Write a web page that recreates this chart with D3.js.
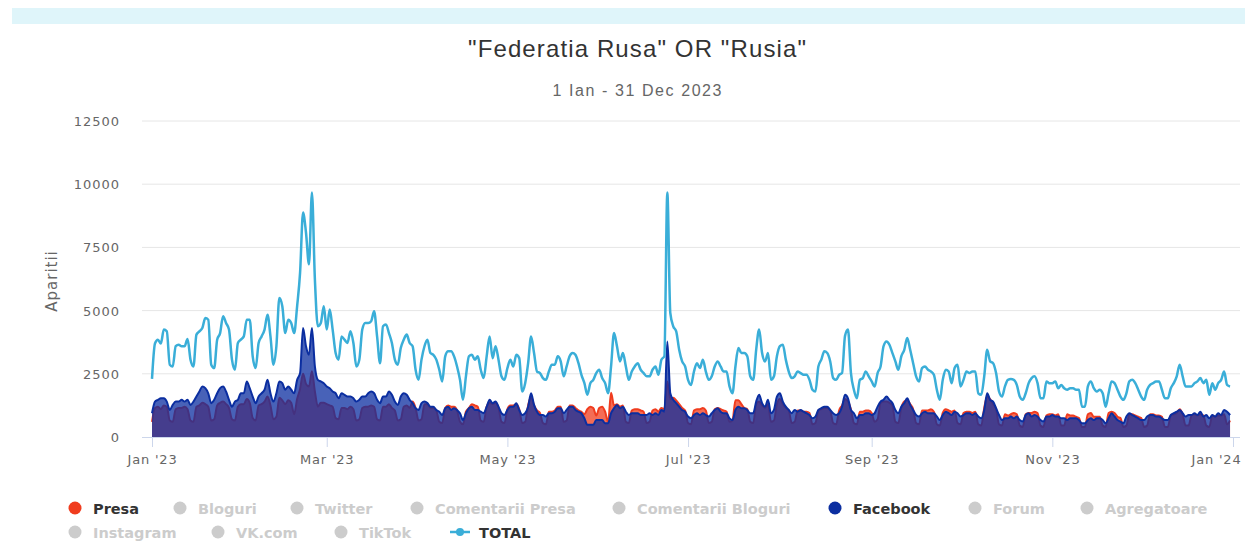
<!DOCTYPE html>
<html><head><meta charset="utf-8">
<script src="https://cdn.jsdelivr.net/npm/d3@7"></script>
<style>body{margin:0;background:#fff;} svg{display:block;}</style>
</head><body>
<svg id="c" width="1245" height="542"></svg>
<script>
// ---- DATA (daily, 1 Jan 2023 .. 31 Dec 2023) ----
const startDay = "2023-01-01";
const total = [
// Jan
2300,3700,3850,3700,4250,4180,2860,2790,3590,3650,3590,3590,3880,3060,2790,4050,4180,4310,4710,4640,2860,2725,3850,4110,4780,4510,4250,3060,2660,3720,3850,
// Feb
3980,4640,4640,3190,2725,3720,3980,4250,4840,3980,2860,3590,5500,5170,4110,4640,4510,4110,5170,6500,8880,8080,6830,9670,6230,4380,4510,5170,
// Mar
4250,5040,4250,3320,3060,3980,3850,3720,4180,3720,2790,3060,4250,4510,4510,4580,4970,3980,2920,4380,4450,4110,3720,3060,2860,3520,3850,4050,3720,3590,2660,
// Apr
2260,3060,3590,3850,3320,3250,3060,2660,2200,3190,3390,3390,3190,2790,2260,1470,2400,3190,3250,3060,3190,2660,2330,3190,3980,3120,3590,3060,2400,2260,
// May
2725,3060,2790,3250,3120,1800,2130,2920,3980,3320,2590,2530,2330,2260,2590,2860,2860,3190,2990,2400,2790,3190,3320,3250,2920,2460,2130,1670,2130,2260,2530,
// Jun
2660,2330,2130,1730,2790,4110,3590,2990,3320,2790,2260,2590,2790,2920,2660,2530,2400,2400,2660,2790,2460,3060,3190,9670,4910,4380,4180,3450,2990,2790,
// Jul
2260,2060,2590,2920,2725,3060,2590,2260,2400,2790,2990,2790,2590,2590,2000,1730,2790,3520,3320,3320,3190,2400,2260,3450,4250,3320,2990,3320,2260,2400,3190,
// Aug
3590,3650,3060,2590,2330,2400,2590,2530,2460,2460,2260,1870,1800,2790,3060,3390,3320,2990,2330,2260,2460,2530,4000,4250,2530,1870,1530,2260,2330,2590,2400,
// Sep
2200,2000,2530,2790,3590,3780,3650,3320,2990,2660,3190,3450,3920,3450,2920,2400,2200,2725,2790,2660,2590,2460,1870,1470,2260,2660,2590,2130,2725,2860,
// Oct
2000,2260,2590,2530,2590,2590,1730,1670,2400,3450,2990,2920,2530,1800,1600,2000,2260,2290,2260,2060,1600,1470,1730,2130,2330,2400,2130,1530,1530,2200,2130,
// Nov
2130,2200,1930,2060,1930,1870,1930,1930,1870,1870,1200,1200,2000,2200,1930,1800,1870,1730,1200,1730,2200,2130,1870,1600,1470,1730,2200,2260,2130,1870,
// Dec
1600,1470,1870,2060,2130,2200,2200,1870,1530,1530,1930,2130,2400,2860,2400,2000,2000,2000,2130,2200,2330,2130,2260,1670,2130,1870,2130,2260,2590,2060,2000
];
const facebook = [
// Jan
940,1400,1470,1530,1530,1400,1070,1270,1400,1400,1470,1400,1470,1270,1400,1600,1800,2000,1930,1730,1340,1470,1730,1930,2000,1800,1470,1200,1400,1470,1730,
// Feb
1730,2200,1930,1600,1340,1600,1730,1870,2260,1730,1400,1730,2200,2130,1870,2000,1870,1730,2260,2530,4310,3590,3250,4310,2790,2260,2200,2130,
// Mar
2000,1930,1800,1730,1530,1730,1670,1600,1600,1530,1400,1470,1600,1600,1730,1800,1730,1470,1340,1600,1600,1800,1670,1400,1270,1600,1730,1670,1470,1340,1140,
// Apr
1070,1340,1400,1340,1200,1200,1070,1000,870,1140,1200,1070,1140,1070,940,670,940,1140,1200,1070,1070,1000,940,1200,1470,1340,1400,1200,940,870,
// May
1070,1200,1200,1340,1070,870,940,1200,1730,1270,1000,870,870,810,940,940,1000,1140,1140,940,1070,1200,1200,1070,1000,940,740,480,480,480,670,
// Jun
670,670,540,540,940,1140,1270,1140,1200,1000,870,940,940,940,870,870,870,940,870,940,870,1070,1000,3780,1730,1470,1340,1200,1070,1000,
// Jul
810,740,870,940,870,940,870,810,940,1070,1140,1000,940,940,740,670,1070,1200,1140,1140,1070,940,940,1400,1670,1340,1200,1470,940,1070,1600,
// Aug
1730,1400,1200,1070,940,1070,1000,1070,1000,940,870,740,810,1070,1140,1200,1200,1070,940,870,940,1200,1670,1530,1070,940,740,870,870,940,940,
// Sep
870,940,1200,1400,1470,1600,1470,1340,1070,940,1200,1340,1530,1270,1070,870,810,940,1000,940,940,940,810,670,870,1000,940,870,1000,940,
// Oct
810,870,940,940,870,940,810,740,1070,1730,1470,1400,1140,870,670,740,740,810,740,810,670,610,870,940,810,870,810,670,610,810,810,
// Nov
870,810,810,740,740,670,740,740,740,670,540,540,670,740,670,740,740,670,540,740,940,810,670,610,540,810,940,870,810,740,
// Dec
670,670,810,870,870,810,810,740,670,670,870,940,1000,1070,940,810,870,870,940,870,1000,810,870,740,870,810,940,870,1070,1000,870
];
const presa = [
// Jan
600,1150,1200,1100,1250,1200,650,600,1100,1150,1150,1200,1100,650,600,1200,1250,1350,1300,1200,650,700,1250,1350,1400,1300,1150,700,650,1200,1300,
// Feb
1300,1500,1350,750,650,1250,1300,1400,1600,1250,700,800,1550,1450,1300,1450,1350,900,1500,1900,2500,2100,2000,2600,1800,1200,1350,1350,
// Mar
1300,1250,1200,750,700,1150,1150,1100,1200,1100,650,700,1150,1200,1200,1250,1200,700,650,1200,1200,1300,1150,1050,650,700,1200,1250,1150,1400,1150,
// Apr
650,700,1300,1300,1150,1150,1050,600,550,1150,1250,1200,1200,1050,600,500,1000,1150,1300,1250,1200,650,600,1200,1350,1300,1350,1150,600,550,
// May
1100,1250,1250,1300,1100,550,600,1250,1600,1250,1050,950,550,500,1000,1000,1050,1200,1200,600,650,1250,1250,1150,1050,1000,900,1100,1200,1150,850,
// Jun
1150,1200,1000,600,1750,1250,1300,1200,1250,600,550,1050,1100,1100,1050,1000,550,600,1050,1100,1000,1150,1100,2200,1500,1550,1450,1300,1150,1050,
// Jul
550,500,1050,1100,1100,1150,1050,550,600,1100,1150,1100,1050,1000,600,650,1450,1450,1300,1150,1100,600,550,1300,1400,1250,1150,1300,600,650,1300,
// Aug
1500,1300,1150,1050,550,600,1050,1050,1000,1000,950,500,550,1050,1100,1150,1150,1050,550,500,1050,1250,1500,1400,1100,550,500,1000,1000,1050,1050,
// Sep
950,600,700,1350,1400,1400,1350,1250,600,550,1150,1400,1450,1300,1100,550,500,1050,1050,1050,1100,1000,500,450,950,1100,1050,1000,1050,550,
// Oct
500,950,1000,1000,950,1000,500,450,1150,1600,1500,1300,1100,500,450,900,850,900,950,900,450,400,900,950,950,1000,950,450,400,850,900,
// Nov
900,850,900,450,450,900,850,850,800,750,400,400,900,950,800,800,800,450,400,950,1000,950,800,750,400,450,900,900,850,800,
// Dec
750,400,450,900,900,850,850,800,400,400,850,900,950,1100,900,450,450,850,900,850,900,850,450,400,850,800,850,850,900,500,650
];
const yTicks = [0, 2500, 5000, 7500, 10000, 12500];
const xTickDates = ["2023-01-01","2023-03-01","2023-05-01","2023-07-01","2023-09-01","2023-11-01","2024-01-01"];
const xTickLabels = ["Jan '23","Mar '23","May '23","Jul '23","Sep '23","Nov '23","Jan '24"];
const legendRow1 = ["Presa","Bloguri","Twitter","Comentarii Presa","Comentarii Bloguri","Facebook","Forum","Agregatoare"];
const legendRow2 = ["Instagram","VK.com","TikTok","TOTAL"];
const titleText = "\"Federatia Rusa\" OR \"Rusia\"";
const subtitleText = "1 Ian - 31 Dec 2023";
const yTitle = "Aparitii";

// ---- STYLE / LAYOUT ----
const C_PRESA = "#f03c1e", C_FB = "#0b2ea0", C_TOTAL = "#3aaed8", C_OFF = "#cccccc";
const parse = d3.timeParse("%Y-%m-%d");
const d0 = parse(startDay);
const dates = total.map((_, i) => d3.timeDay.offset(d0, i));

const svg = d3.select("#c");
svg.append("rect").attr("x",12).attr("y",8).attr("width",1233).attr("height",16).attr("fill","#dff5fa");

const x = d3.scaleTime().domain([d0, parse("2024-01-01")]).range([152, 1233]);
const y = d3.scaleLinear().domain([0, 12500]).range([437, 121]);
const plotL = 142, plotR = 1240;

// title
svg.append("text").attr("x",637).attr("y",57).attr("text-anchor","middle")
  .attr("font-family","'Liberation Sans', Arial, sans-serif").attr("font-size",24)
  .attr("fill","#333").attr("textLength",338).attr("lengthAdjust","spacing").text(titleText);
svg.append("text").attr("x",637).attr("y",96).attr("text-anchor","middle")
  .attr("font-family","'Liberation Sans', Arial, sans-serif").attr("font-size",16)
  .attr("fill","#666").attr("textLength",169).attr("lengthAdjust","spacing").text(subtitleText);

// grid
const grid = svg.append("g");
grid.selectAll("line").data(yTicks.filter(v => v > 0)).join("line")
  .attr("x1",plotL).attr("x2",plotR).attr("y1",d=>y(d)).attr("y2",d=>y(d))
  .attr("stroke","#e6e6e6").attr("stroke-width",1);

// y axis labels
const yAxis = d3.axisLeft(y).tickValues(yTicks).tickFormat(d3.format("d")).tickSize(0).tickPadding(0);
const gy = svg.append("g").attr("transform","translate(120,0)").call(yAxis);
gy.select(".domain").remove();
gy.selectAll("text").attr("font-family","'DejaVu Sans', Verdana, sans-serif").attr("font-size",13)
  .attr("letter-spacing","1px").attr("fill","#666").attr("dy","0.35em");

svg.append("text").attr("transform","translate(57,281) rotate(-90)").attr("text-anchor","middle")
  .attr("font-family","'DejaVu Sans', Verdana, sans-serif").attr("font-size",15)
  .attr("letter-spacing","1px").attr("fill","#666").text(yTitle);

// areas
const curve = d3.curveMonotoneX;
const areaGen = vals => d3.area().x((d,i)=>x(dates[i])).y0(y(0)).y1(d=>y(d)).curve(curve)(vals);
const lineGen = vals => d3.line().x((d,i)=>x(dates[i])).y(d=>y(d)).curve(curve)(vals);

svg.append("path").attr("d",areaGen(presa)).attr("fill",C_PRESA).attr("fill-opacity",0.75);
svg.append("path").attr("d",lineGen(presa)).attr("fill","none").attr("stroke",C_PRESA).attr("stroke-width",2);
svg.append("path").attr("d",areaGen(facebook)).attr("fill",C_FB).attr("fill-opacity",0.75);
svg.append("path").attr("d",lineGen(facebook)).attr("fill","none").attr("stroke",C_FB).attr("stroke-width",2);

// x axis
svg.append("line").attr("x1",plotL).attr("x2",plotR).attr("y1",437.5).attr("y2",437.5).attr("stroke","#ccd6eb");
const xAxis = d3.axisBottom(x).tickValues(xTickDates.map(parse))
  .tickFormat((d,i)=>xTickLabels[i]).tickSize(10).tickPadding(8);
const gx = svg.append("g").attr("transform","translate(0,437)").call(xAxis);
gx.select(".domain").remove();
gx.selectAll("line").attr("stroke","#ccd6eb");
gx.selectAll("text").attr("font-family","'DejaVu Sans', Verdana, sans-serif").attr("font-size",13)
  .attr("letter-spacing","0.8px").attr("fill","#666");
// keep the last label inside the frame (right-aligned to the plot edge)
gx.selectAll(".tick").filter((d,i,n)=>i===n.length-1).select("text")
  .attr("text-anchor","end").attr("x", 1241 - 1233);

// total line
svg.append("path").attr("d",lineGen(total)).attr("fill","none").attr("stroke",C_TOTAL)
  .attr("stroke-width",2.5).attr("stroke-linejoin","round");

// legend
const legX1 = [75,180,297,417,619,835,975,1087];
const legX2 = [75,218,341,460];
const legFont = "'DejaVu Sans', Verdana, sans-serif";
const leg = svg.append("g");
legendRow1.forEach((name,i)=>{
  const on = name === "Presa" || name === "Facebook";
  const col = name === "Presa" ? C_PRESA : (name === "Facebook" ? C_FB : C_OFF);
  leg.append("circle").attr("cx",legX1[i]).attr("cy",508).attr("r",6.5).attr("fill",col);
  leg.append("text").attr("x",legX1[i]+18).attr("y",513.5).attr("font-family",legFont)
    .attr("font-weight","bold").attr("font-size",14.5).attr("fill",on?"#333":C_OFF).text(name);
});
legendRow2.forEach((name,i)=>{
  if (name === "TOTAL") {
    leg.append("line").attr("x1",legX2[i]-10).attr("x2",legX2[i]+10).attr("y1",532).attr("y2",532)
      .attr("stroke",C_TOTAL).attr("stroke-width",2.5);
    leg.append("circle").attr("cx",legX2[i]).attr("cy",532).attr("r",4).attr("fill",C_TOTAL);
    leg.append("text").attr("x",legX2[i]+19).attr("y",537.5).attr("font-family",legFont)
      .attr("font-weight","bold").attr("font-size",14.5).attr("fill","#333").text(name);
  } else {
    leg.append("circle").attr("cx",legX2[i]).attr("cy",532).attr("r",6.5).attr("fill",C_OFF);
    leg.append("text").attr("x",legX2[i]+18).attr("y",537.5).attr("font-family",legFont)
      .attr("font-weight","bold").attr("font-size",14.5).attr("fill",C_OFF).text(name);
  }
});
</script>
</body></html>
